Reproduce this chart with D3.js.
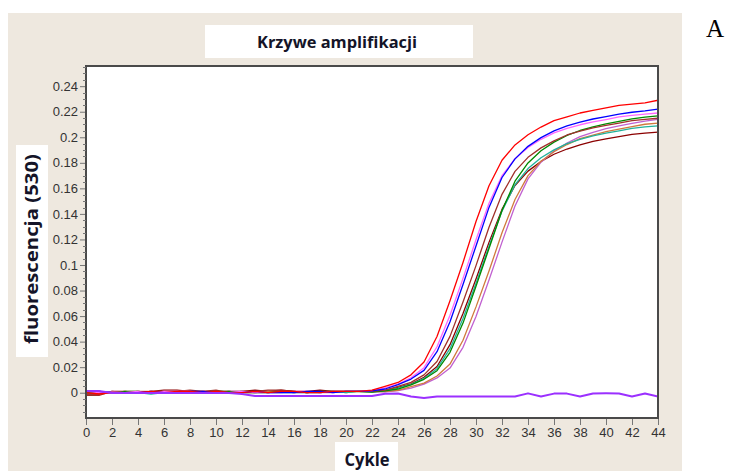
<!DOCTYPE html>
<html>
<head>
<meta charset="utf-8">
<script src="https://cdn.jsdelivr.net/npm/d3@7"></script>
<style>
  html, body { margin: 0; padding: 0; background: #ffffff; }
  svg { display: block; }
</style>
</head>
<body>
<svg id="chart" width="733" height="473"></svg>
<script>
// Cycle numbers and axis ticks
const cycles = d3.range(0, 45);
const xTickValues = [0, 2, 4, 6, 8, 10, 12, 14, 16, 18, 20, 22, 24, 26, 28, 30, 32, 34, 36, 38, 40, 42, 44];
const yTickValues = [0, 0.02, 0.04, 0.06, 0.08, 0.1, 0.12, 0.14, 0.16, 0.18, 0.2, 0.22, 0.24];
const yTickLabels = ["0", "0.02", "0.04", "0.06", "0.08", "0.1", "0.12", "0.14", "0.16", "0.18", "0.2", "0.22", "0.24"];

// Fluorescence (530) per cycle, 0..44
const redSample = [0,-.001,0,0,0,.001,0,.001,.001,0,.001,0,0,.001,0,.001,.001,0,0,.001,.001,.001,
  .002,.005,.008,.014,.024,.044,.072,.102,.134,.162,.182,.194,.202,.208,.213,.216,.219,.221,.223,.225,.226,.227,.229];
const magentaSample = [.001,0,.0005,0,.001,0,.001,.001,.001,0,0,0,.001,0,0,0,.001,.001,0,.001,.001,.001,
  .0016,.0037,.0068,.0117,.0196,.036,.0606,.0895,.1197,.1483,.1699,.1832,.192,.1984,.2035,.2069,.2098,.212,.2139,.2159,.2171,.2181,.219];
const blueSample = [.001,.001,0,0,0,.001,0,0,.001,.001,0,0,0,.001,0,0,0,.001,.001,0,.001,.001,
  .0015,.0029,.0063,.0107,.0175,.0321,.0555,.0847,.1149,.1451,.1685,.1831,.1929,.1997,.205,.2089,.2118,.2143,.2162,.2182,.2196,.2206,.2221];
const brownSample = [-.002,-.002,.001,0,.001,0,.001,.001,.002,.001,.002,0,.001,.001,.002,.002,.001,0,.001,.001,.001,.001,
  .001,.0021,.005,.0081,.014,.0244,.0441,.071,.0995,.1296,.1553,.1733,.1843,.1917,.1972,.2018,.2049,.2074,.2093,.2111,.213,.214,.2149];
const darkredSample = [-.001,-.001,.001,.001,0,.001,.002,.002,.001,.001,.001,.001,.001,.002,.001,.002,.001,.001,.002,.001,.001,.001,
  .0008,.0017,.0041,.0069,.0121,.0205,.0376,.0621,.0891,.1177,.1435,.1622,.1735,.1811,.1867,.1908,.1941,.1968,.1987,.2005,.2023,.2033,.2041];
const tealSample = [0,.001,0,0,0,-.001,0,0,0,0,0,0,.001,0,0,0,0,0,0,.001,0,.001,
  .0006,.0016,.0035,.0065,.0112,.0188,.0345,.0581,.0857,.1147,.1422,.1628,.1755,.184,.1901,.195,.1983,.2011,.2032,.205,.2069,.2081,.209];
const greenSample = [0,0,0,.001,.001,0,0,0,.001,0,.001,.001,0,0,0,.001,.001,0,.001,.001,.001,.001,
  .0005,.0014,.0029,.0062,.0105,.0172,.0316,.0545,.0833,.1129,.1426,.1656,.1799,.1895,.1962,.2014,.2053,.2081,.2105,.2125,.2144,.2158,.2168];
const orangeSample = [0,0,0,.001,.001,.001,.001,.001,0,.001,0,.001,0,0,.001,.001,0,.001,0,.001,0,.001,
  .0008,.0009,.0019,.0047,.0075,.0131,.0224,.0411,.0672,.0953,.1252,.1513,.17,.1812,.1887,.1943,.1989,.2017,.2045,.2064,.2083,.2102,.2111];
const orchidSample = [.001,0,0,0,0,0,0,.001,0,.001,0,.001,.001,0,.001,.001,0,0,0,0,.001,.001,
  .0008,.0007,.0016,.0036,.0067,.0116,.0193,.0355,.0597,.0882,.1179,.1462,.1674,.1805,.1892,.1955,.2005,.2039,.2068,.2089,.2108,.2127,.214];
const negativeControl = [.0013,.0013,-.0003,-.0003,-.0003,-.0003,-.0003,-.0003,-.0003,-.0003,-.0003,-.0003,-.001,
  -.0026,-.0026,-.0026,-.0026,-.0026,-.0026,-.0026,-.0026,-.0026,-.0026,
  -.0008,-.0006,-.003,-.0042,-.003,-.003,-.003,-.003,-.003,-.003,-.003,-.0005,-.003,-.0007,-.0007,-.003,-.0006,-.0005,-.0006,-.003,-.0006,-.003];

const series = [
  { values: darkredSample, color: "#8b0000", width: 1.3 },
  { values: orchidSample, color: "#c060d0", width: 1.3 },
  { values: orangeSample, color: "#d07a3c", width: 1.3 },
  { values: tealSample, color: "#22b29a", width: 1.3 },
  { values: greenSample, color: "#008a00", width: 1.3 },
  { values: brownSample, color: "#a0302a", width: 1.3 },
  { values: magentaSample, color: "#ff66ff", width: 1.3 },
  { values: blueSample, color: "#0000ff", width: 1.3 },
  { values: redSample, color: "#ff0000", width: 1.3 },
  { values: negativeControl, color: "#9b30ff", width: 2 }
];

const svg = d3.select("#chart");

// Panel background
svg.append("rect").attr("x", 8).attr("y", 13).attr("width", 674).attr("height", 458)
  .attr("fill", "#eee8df");

// Plot area
const plot = { left: 86, right: 658, top: 66, bottom: 418 };
const x = d3.scaleLinear().domain([0, 44]).range([plot.left, plot.right]);
const y = d3.scaleLinear().domain([-0.0198, 0.2558]).range([plot.bottom, plot.top]);

svg.append("rect")
  .attr("x", plot.left).attr("y", plot.top)
  .attr("width", plot.right - plot.left).attr("height", plot.bottom - plot.top)
  .attr("fill", "#ffffff");

svg.append("defs").append("clipPath").attr("id", "plotClip")
  .append("rect")
  .attr("x", plot.left).attr("y", plot.top)
  .attr("width", plot.right - plot.left).attr("height", plot.bottom - plot.top);

// Curves
const line = d3.line()
  .x((d, i) => x(cycles[i]))
  .y(d => y(d));

const curves = svg.append("g").attr("clip-path", "url(#plotClip)");
series.forEach(s => {
  curves.append("path")
    .datum(s.values)
    .attr("fill", "none")
    .attr("stroke", s.color)
    .attr("stroke-width", s.width)
    .attr("stroke-linejoin", "round")
    .attr("d", line);
});

// Frame
svg.append("rect")
  .attr("x", plot.left).attr("y", plot.top)
  .attr("width", plot.right - plot.left).attr("height", plot.bottom - plot.top)
  .attr("fill", "none").attr("stroke", "#4a4a4a").attr("stroke-width", 2);

// Y axis with minor ticks
const yMinor = d3.range(-0.015, 0.2551, 0.005).filter(v => Math.abs(Math.round(v / 0.02) * 0.02 - v) > 1e-6);
svg.append("g").selectAll("line").data(yMinor).join("line")
  .attr("x1", plot.left - 3).attr("x2", plot.left)
  .attr("y1", d => Math.round(y(d)) + 0.5).attr("y2", d => Math.round(y(d)) + 0.5)
  .attr("stroke", "#777").attr("stroke-width", 1);

const yAxis = d3.axisLeft(y).tickValues(yTickValues)
  .tickFormat((d, i) => yTickLabels[i]).tickSize(5).tickPadding(2);
const gy = svg.append("g").attr("transform", `translate(${plot.left - 1},0)`).call(yAxis);
gy.select(".domain").remove();
gy.selectAll(".tick line").attr("stroke", "#777");
gy.selectAll(".tick text").attr("fill", "#333")
  .style("font-family", "'Liberation Sans', Arial, sans-serif").style("font-size", "13px");

// X axis
const xAxis = d3.axisBottom(x).tickValues(xTickValues).tickSize(6).tickPadding(3);
const gx = svg.append("g").attr("transform", `translate(0,${plot.bottom + 1})`).call(xAxis);
gx.select(".domain").remove();
gx.selectAll(".tick line").attr("stroke", "#777");
gx.selectAll(".tick text").attr("fill", "#333")
  .style("font-family", "'Liberation Sans', Arial, sans-serif").style("font-size", "13px");

// Title
svg.append("rect").attr("x", 205).attr("y", 25).attr("width", 268).attr("height", 33).attr("fill", "#ffffff");
svg.append("text").attr("x", 337).attr("y", 48).attr("text-anchor", "middle")
  .attr("textLength", 160).attr("lengthAdjust", "spacingAndGlyphs")
  .style("font-family", "'Open Sans', 'Noto Sans', sans-serif").style("font-weight", "bold")
  .style("font-size", "16px").attr("fill", "#141428")
  .text("Krzywe amplifikacji");

// Y axis title
svg.append("rect").attr("x", 16).attr("y", 145).attr("width", 32).attr("height", 212).attr("fill", "#ffffff");
svg.append("text").attr("transform", "translate(38,249) rotate(-90)").attr("text-anchor", "middle")
  .attr("textLength", 190).attr("lengthAdjust", "spacingAndGlyphs")
  .style("font-family", "'Open Sans', 'Noto Sans', sans-serif").style("font-weight", "bold")
  .style("font-size", "17px").attr("fill", "#141428")
  .text("fluorescencja (530)");

// X axis title
svg.append("rect").attr("x", 335).attr("y", 442).attr("width", 63).attr("height", 29).attr("fill", "#ffffff");
svg.append("text").attr("x", 367).attr("y", 466).attr("text-anchor", "middle")
  .attr("textLength", 45).attr("lengthAdjust", "spacingAndGlyphs")
  .style("font-family", "'Open Sans', 'Noto Sans', sans-serif").style("font-weight", "bold")
  .style("font-size", "17px").attr("fill", "#141428")
  .text("Cykle");

// Panel letter
svg.append("text").attr("x", 706).attr("y", 37)
  .style("font-family", "'Liberation Serif', 'Times New Roman', serif")
  .style("font-size", "25px").attr("fill", "#000")
  .text("A");
</script>
</body>
</html>
